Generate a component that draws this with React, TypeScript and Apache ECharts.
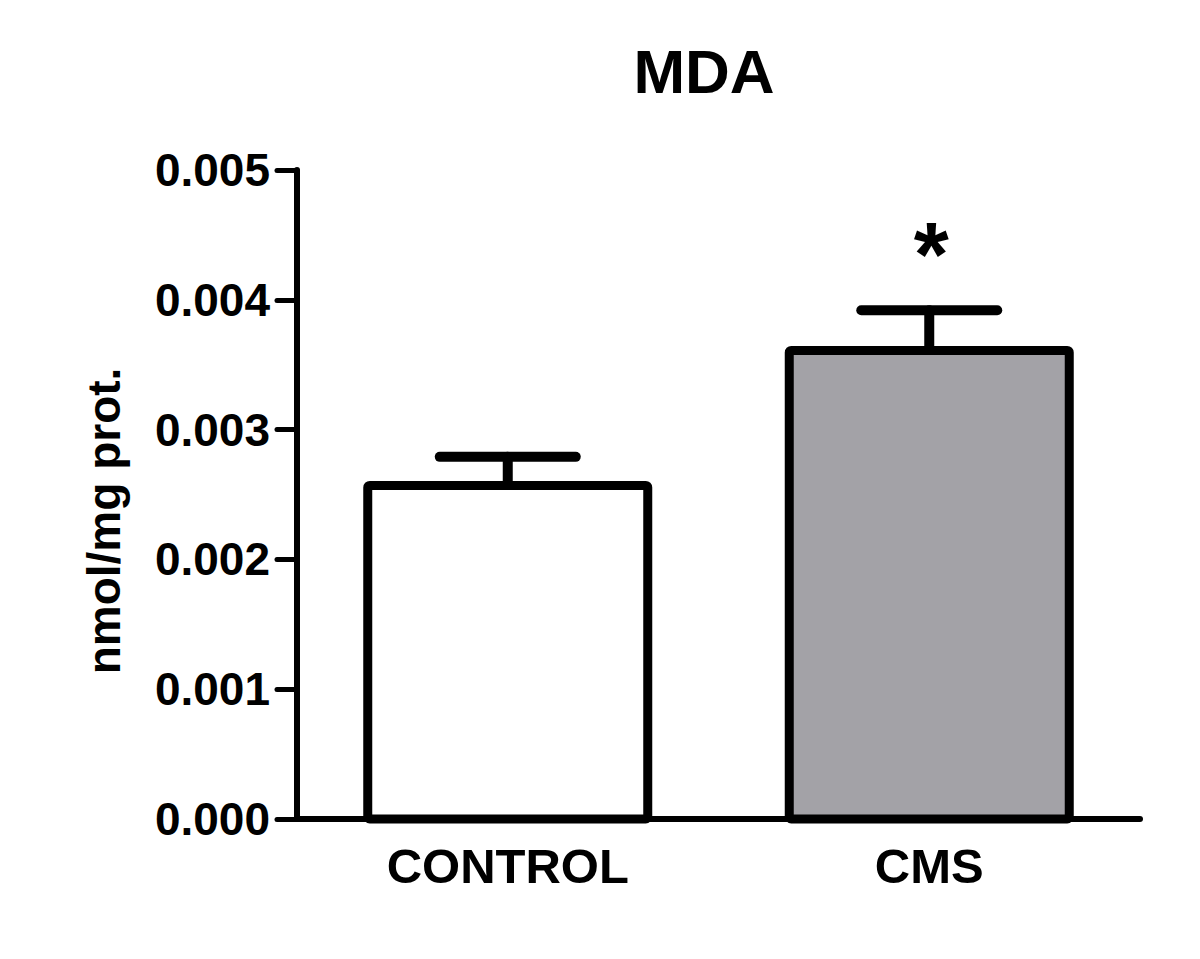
import React, { useEffect, useRef } from "react";
import * as echarts from "echarts";

const categories = ["CONTROL", "CMS"];
const meanValues = [0.00257, 0.00361];
const semValues = [0.00022, 0.00031];
const significance = ["", "*"];
const barColors = ["#ffffff", "#a3a2a7"];
const yMin = 0;
const yMax = 0.005;
const yInterval = 0.001;
const titleText = "MDA";
const yAxisTitle = "nmol/mg prot.";

const FONT = "'Liberation Sans', Arial, Helvetica, sans-serif";

export default function App() {
  const ref = useRef<HTMLDivElement>(null);

  useEffect(() => {
    if (!ref.current) return;
    const chart = echarts.init(ref.current, null, { renderer: "svg" });

    const seriesData = meanValues.map((v, i) => [i, v, semValues[i]]);

    const option: any = {
      animation: false,
      backgroundColor: "#ffffff",
      grid: { left: 297, right: 60, top: 170, bottom: 140, containLabel: false },
      graphic: [
        {
          type: "text",
          x: 704,
          y: 71,
          style: {
            text: titleText,
            font: `bold 62px ${FONT}`,
            fill: "#000",
            textAlign: "center",
            textVerticalAlign: "middle",
          },
        },
        {
          type: "text",
          x: 104,
          y: 521,
          rotation: Math.PI / 2,
          style: {
            text: yAxisTitle,
            font: `bold 46px ${FONT}`,
            fill: "#000",
            textAlign: "center",
            textVerticalAlign: "middle",
          },
        },
      ],
      xAxis: {
        type: "category",
        data: categories,
        boundaryGap: true,
        axisLine: { lineStyle: { color: "#000", width: 6, cap: "round" } },
        axisTick: {
          alignWithLabel: true,
          length: 19,
          lineStyle: { color: "#000", width: 5, cap: "round" },
        },
        axisLabel: {
          color: "#000",
          fontFamily: FONT,
          fontWeight: "bold",
          fontSize: 49,
          margin: 47,
          verticalAlign: "middle",
        },
        splitLine: { show: false },
      },
      yAxis: {
        type: "value",
        min: yMin,
        max: yMax,
        interval: yInterval,
        axisLine: { show: true, lineStyle: { color: "#000", width: 6, cap: "round" } },
        axisTick: {
          show: true,
          length: 20,
          lineStyle: { color: "#000", width: 5, cap: "round" },
        },
        axisLabel: {
          color: "#000",
          fontFamily: FONT,
          fontWeight: "bold",
          fontSize: 46,
          margin: 27,
          formatter: (v: number) => v.toFixed(3),
        },
        splitLine: { show: false },
      },
      series: [
        {
          type: "custom",
          name: "MDA",
          z: 2,
          data: seriesData,
          encode: { x: 0, y: 1 },
          renderItem: (params: any, api: any) => {
            const idx = api.value(0);
            const mean = api.value(1);
            const sem = api.value(2);
            const base = api.coord([idx, 0]);
            const top = api.coord([idx, mean]);
            const errTop = api.coord([idx, mean + sem]);
            const halfBar = 140;
            const half = 68;
            const children: any[] = [
              {
                type: "line",
                z2: 1,
                shape: { x1: top[0], y1: top[1], x2: errTop[0], y2: errTop[1] },
                style: { stroke: "#000", lineWidth: 10, lineCap: "round" },
              },
              {
                type: "line",
                z2: 1,
                shape: { x1: errTop[0] - half, y1: errTop[1], x2: errTop[0] + half, y2: errTop[1] },
                style: { stroke: "#000", lineWidth: 10, lineCap: "round" },
              },
              {
                type: "rect",
                z2: 2,
                shape: {
                  x: top[0] - halfBar,
                  y: top[1],
                  width: halfBar * 2,
                  height: base[1] - top[1],
                  r: 2,
                },
                style: {
                  fill: barColors[params.dataIndex],
                  stroke: "#000",
                  lineWidth: 9,
                  lineJoin: "round",
                },
              },
            ];
            const sig = significance[params.dataIndex];
            if (sig) {
              children.push({
                type: "text",
                z2: 3,
                x: errTop[0] + 2,
                y: errTop[1] - 10,
                style: {
                  text: sig,
                  font: `bold 90px ${FONT}`,
                  fill: "#000",
                  textAlign: "center",
                  textVerticalAlign: "bottom",
                },
              });
            }
            return { type: "group", children };
          },
        },
      ],
    };

    chart.setOption(option);
    return () => chart.dispose();
  }, []);

  return (
    <div
      ref={ref}
      style={{ position: "fixed", left: 0, top: 0, width: 1200, height: 959, background: "#fff" }}
    />
  );
}
